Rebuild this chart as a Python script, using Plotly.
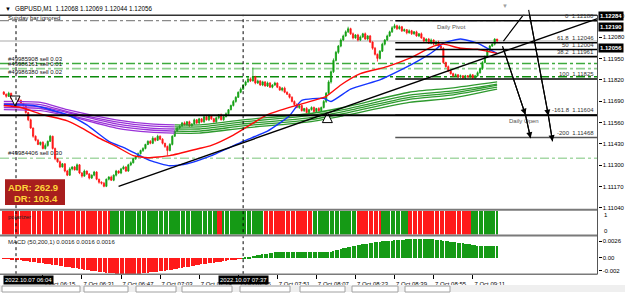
import pandas as pd
import plotly.graph_objects as go

W, H = 625, 293
DAY = "2022-10-07 "

# ---------------- data ----------------
symbol = "GBPUSD"
timeframe = "M1"
first_bar = "2022-10-07 05:59"
first_open = 1.11745

close = [
    1.11732, 1.11719, 1.11738, 1.11707, 1.11688, 1.11713, 1.11694, 1.11676, 1.11663, 1.11620,
    1.11576, 1.11526, 1.11476, 1.11451, 1.11426, 1.11439, 1.11401, 1.11420, 1.11445, 1.11476,
    1.11401, 1.11339, 1.11320, 1.11289, 1.11308, 1.11264, 1.11239, 1.11277, 1.11289, 1.11271,
    1.11302, 1.11252, 1.11233, 1.11264, 1.11246, 1.11221, 1.11239, 1.11258, 1.11214, 1.11196,
    1.11190, 1.11171, 1.11214, 1.11227, 1.11208, 1.11239, 1.11264, 1.11252, 1.11277, 1.11289,
    1.11264, 1.11302, 1.11314, 1.11339, 1.11352, 1.11370, 1.11389, 1.11401, 1.11426, 1.11445,
    1.11433, 1.11464, 1.11451, 1.11476, 1.11458, 1.11433, 1.11414, 1.11389, 1.11426, 1.11476,
    1.11507, 1.11526, 1.11539, 1.11557, 1.11545, 1.11564, 1.11539, 1.11551, 1.11576, 1.11557,
    1.11582, 1.11564, 1.11595, 1.11576, 1.11601, 1.11582, 1.11564, 1.11588, 1.11607, 1.11576,
    1.11595, 1.11613, 1.11638, 1.11663, 1.11688, 1.11713, 1.11744, 1.11763, 1.11788, 1.11807,
    1.11825, 1.11813, 1.11838, 1.11800, 1.11813, 1.11788, 1.11807, 1.11782, 1.11800, 1.11775,
    1.11788, 1.11800, 1.11775, 1.11757, 1.11769, 1.11744, 1.11732, 1.11713, 1.11688, 1.11669,
    1.11651, 1.11663, 1.11632, 1.11645, 1.11620, 1.11638, 1.11651, 1.11626, 1.11645, 1.11632,
    1.11651, 1.11688, 1.11738, 1.11807, 1.11869, 1.11938, 1.11987, 1.12025, 1.12062, 1.12087,
    1.12112, 1.12131, 1.12100, 1.12075, 1.12093, 1.12062, 1.12081, 1.12100, 1.12068, 1.12087,
    1.12050, 1.12012, 1.11975, 1.11950, 1.11994, 1.12037, 1.12062, 1.12087, 1.12112, 1.12137,
    1.12149, 1.12131, 1.12143, 1.12118, 1.12125, 1.12106, 1.12118, 1.12100, 1.12112, 1.12087,
    1.12100, 1.12075, 1.12056, 1.12068, 1.12043, 1.12062, 1.12037, 1.12050, 1.12025, 1.12012,
    1.11925, 1.11900, 1.11875, 1.11857, 1.11844, 1.11850, 1.11838, 1.11844, 1.11832, 1.11844,
    1.11838, 1.11850, 1.11832, 1.11844, 1.11863, 1.11888, 1.11925, 1.11962, 1.12000, 1.12025,
    1.12037, 1.12068, 1.12056,
]

upper_wick_pts = [
    6, 4, 9, 3, 5, 8, 4, 6, 3, 5,
    4, 7, 3, 5, 9, 4, 6, 12, 5, 8,
    3, 6, 4, 8, 5, 3, 7, 10, 4, 6,
    8, 4, 5, 9, 3, 6, 4, 7, 5, 3,
    5, 8, 4, 6, 9, 5, 7, 4, 6, 8,
    4, 6, 9, 5, 3, 7, 5, 8, 4, 6,
    7, 12, 4, 9, 5, 6, 3, 5, 8, 6,
    5, 8, 4, 6, 9, 5, 7, 4, 8, 5,
    6, 4, 9, 5, 7, 3, 6, 8, 4, 7,
    5, 8, 4, 6, 9, 7, 5, 10, 6, 8,
    12, 9, 56, 6, 8, 4, 7, 5, 9, 6,
    5, 8, 4, 7, 6, 9, 5, 4, 7, 6,
    8, 5, 6, 4, 9, 5, 7, 6, 4, 8,
    6, 9, 7, 10, 8, 12, 9, 7, 10, 8,
    9, 12, 6, 8, 5, 7, 9, 6, 8, 5,
    6, 4, 8, 5, 7, 9, 6, 8, 7, 10,
    12, 6, 8, 5, 7, 4, 9, 6, 5, 7,
    5, 8, 6, 4, 7, 9, 5, 6, 8, 4,
    6, 5, 7, 4, 6, 8, 5, 7, 4, 6,
    5, 7, 4, 6, 8, 7, 9, 6, 8, 7,
    6, 5, 1,
]

lower_wick_pts = [
    5, 8, 4, 6, 3, 9, 5, 4, 7, 6,
    8, 5, 9, 6, 4, 7, 5, 6, 8, 4,
    6, 9, 5, 7, 4, 8, 6, 5, 9, 4,
    5, 7, 9, 4, 6, 8, 5, 7, 6, 9,
    8, 6, 5, 7, 4, 6, 8, 5, 7, 4,
    6, 5, 8, 4, 7, 5, 6, 9, 5, 4,
    6, 5, 8, 4, 6, 7, 9, 31, 5, 6,
    4, 6, 5, 8, 4, 6, 7, 5, 4, 8,
    6, 5, 7, 4, 8, 6, 5, 7, 9, 4,
    6, 4, 7, 5, 6, 8, 4, 6, 5, 7,
    5, 7, 4, 8, 6, 5, 7, 4, 6, 5,
    7, 5, 6, 4, 8, 6, 5, 7, 6, 8,
    5, 9, 6, 8, 5, 7, 6, 9, 5, 7,
    8, 6, 9, 7, 10, 8, 6, 9, 7, 6,
    5, 7, 6, 9, 5, 8, 6, 7, 5, 8,
    6, 9, 7, 19, 6, 5, 8, 6, 5, 7,
    6, 8, 5, 7, 6, 9, 5, 7, 6, 5,
    7, 5, 8, 6, 5, 7, 6, 9, 5, 8,
    9, 6, 8, 5, 7, 4, 6, 8, 5, 7,
    6, 8, 5, 7, 5, 6, 8, 5, 7, 6,
    5, 8, 12,
]

macd_hist = [
    -0.00002, -0.00007, -0.00011, -0.00016, -0.00020, -0.00025, -0.00030, -0.00034, -0.00039, -0.00043,
    -0.00048, -0.00052, -0.00057, -0.00062, -0.00068, -0.00073, -0.00079, -0.00084, -0.00090, -0.00095,
    -0.00101, -0.00106, -0.00111, -0.00117, -0.00122, -0.00128, -0.00133, -0.00139, -0.00145, -0.00151,
    -0.00157, -0.00163, -0.00169, -0.00175, -0.00181, -0.00187, -0.00193, -0.00199, -0.00204, -0.00210,
    -0.00214, -0.00218, -0.00222, -0.00226, -0.00230, -0.00233, -0.00236, -0.00239, -0.00241, -0.00243,
    -0.00245, -0.00245, -0.00244, -0.00243, -0.00241, -0.00238, -0.00235, -0.00231, -0.00227, -0.00223,
    -0.00219, -0.00215, -0.00210, -0.00206, -0.00201, -0.00196, -0.00191, -0.00186, -0.00181, -0.00176,
    -0.00168, -0.00161, -0.00154, -0.00147, -0.00140, -0.00134, -0.00127, -0.00120, -0.00113, -0.00106,
    -0.00100, -0.00094, -0.00089, -0.00083, -0.00078, -0.00072, -0.00067, -0.00061, -0.00056, -0.00050,
    -0.00044, -0.00039, -0.00033, -0.00028, -0.00022, -0.00017, -0.00011, -0.00006, 0.00002, 0.00010,
    0.00018, 0.00026, 0.00034, 0.00041, 0.00048, 0.00054, 0.00060, 0.00066, 0.00072, 0.00078,
    0.00084, 0.00090, 0.00095, 0.00097, 0.00098, 0.00099, 0.00100, 0.00100, 0.00100, 0.00100,
    0.00100, 0.00100, 0.00099, 0.00099, 0.00098, 0.00098, 0.00097, 0.00097, 0.00097, 0.00098,
    0.00098, 0.00099, 0.00100, 0.00100, 0.00101, 0.00112, 0.00123, 0.00134, 0.00145, 0.00153,
    0.00160, 0.00168, 0.00175, 0.00183, 0.00191, 0.00199, 0.00207, 0.00214, 0.00220, 0.00227,
    0.00233, 0.00240, 0.00246, 0.00252, 0.00258, 0.00262, 0.00265, 0.00268, 0.00271, 0.00274,
    0.00277, 0.00280, 0.00282, 0.00285, 0.00288, 0.00291, 0.00294, 0.00296, 0.00298, 0.00300,
    0.00302, 0.00305, 0.00304, 0.00302, 0.00299, 0.00297, 0.00294, 0.00289, 0.00284, 0.00279,
    0.00274, 0.00268, 0.00263, 0.00258, 0.00252, 0.00246, 0.00240, 0.00235, 0.00230, 0.00224,
    0.00218, 0.00213, 0.00208, 0.00202, 0.00197, 0.00192, 0.00192, 0.00193, 0.00193, 0.00194,
    0.00194, 0.00195, 0.00195,
]
macd_title = "MACD (50,200,1) 0.0016 0.0016 0.0016"

# polarizer: runs of (number of bars, direction)
polarizer_runs = [(44, -1), (44, 1), (2, -1), (17, 1), (20, -1), (18, 1), (10, -1), (11, 1), (26, -1), (11, 1)]
polarizer_level = 1

red_ma_time = ["05:59", "06:06", "06:15", "06:25", "06:31", "06:38", "06:45", "06:52", "06:58", "07:07",
               "07:19", "07:24", "07:33", "07:47", "08:00", "08:11", "08:17", "08:25", "08:36", "08:45",
               "08:55", "08:59", "09:06", "09:13", "09:17", "09:21"]
red_ma = [1.11663, 1.11651, 1.11607, 1.11570, 1.11526, 1.11464, 1.11414, 1.11358, 1.11345, 1.11358,
          1.11401, 1.11420, 1.11483, 1.11607, 1.11669, 1.11719, 1.11788, 1.11857, 1.11900, 1.11950,
          1.12025, 1.12037, 1.12012, 1.12006, 1.11994, 1.11981]

blue_ma_time = ["05:59", "06:11", "06:25", "06:33", "06:42", "06:49", "06:59", "07:07", "07:14", "07:24",
                "07:37", "07:47", "07:56", "08:01", "08:10", "08:13", "08:21", "08:33", "08:41", "08:49",
                "08:55", "08:59", "09:06", "09:13", "09:17", "09:21"]
blue_ma = [1.11669, 1.11663, 1.11607, 1.11545, 1.11445, 1.11401, 1.11327, 1.11296, 1.11308, 1.11358,
           1.11445, 1.11507, 1.11601, 1.11694, 1.11707, 1.11688, 1.11763, 1.11819, 1.11875, 1.11938,
           1.11994, 1.12043, 1.12068, 1.12043, 1.12012, 1.11981]

ribbon_time = ["05:59", "06:14", "06:25", "06:45", "06:59", "07:09", "07:19", "07:37", "08:04", "08:18",
               "08:45", "09:02", "09:21"]
ribbon_lines = [
    [1.11688, 1.11682, 1.11638, 1.11576, 1.11551, 1.11545, 1.11545, 1.11576, 1.11613, 1.11651, 1.11744, 1.11769, 1.11807],
    [1.11676, 1.11669, 1.11626, 1.11564, 1.11539, 1.11533, 1.11533, 1.11564, 1.11601, 1.11638, 1.11726, 1.11751, 1.11794],
    [1.11663, 1.11657, 1.11620, 1.11551, 1.11526, 1.11520, 1.11520, 1.11551, 1.11588, 1.11626, 1.11713, 1.11738, 1.11788],
    [1.11651, 1.11645, 1.11607, 1.11539, 1.11514, 1.11507, 1.11507, 1.11539, 1.11576, 1.11613, 1.11701, 1.11726, 1.11775],
    [1.11638, 1.11632, 1.11601, 1.11526, 1.11501, 1.11495, 1.11495, 1.11526, 1.11564, 1.11601, 1.11682, 1.11707, 1.11763],
]
ribbon_turn_index = 5  # falling (purple) before, rising (green) after

fib_labels = ["0", "61.8", "50", "38.2", "100", "-161.8", "-200"]
fib_prices = [1.12180, 1.12046, 1.12004, 1.11961, 1.11825, 1.11604, 1.11468]
fib_start = "08:39:18"

daily_pivot = 1.12180
daily_open = 1.11604
bid_price = 1.12056
marker_labels = ["1.12284", "1.12190", "1.12056"]

sell_labels = ["#49985908 sell 0.03", "#49986161 sell 0.01", "#49986380 sell 0.02", "#49984406 sell 0.30"]
sell_prices = [1.11919, 1.11888, 1.11838, 1.11342]

trend_time = ["06:46", "10:02:06"]
trend_price = [1.11171, 1.12193]
path_a_time = ["09:23:36", "09:33:48", "09:42:00", "09:43:42"]
path_a_price = [1.12056, 1.12255, 1.11601, 1.11445]
path_b_time = ["09:23:12", "09:32:36", "09:34:42"]
path_b_price = [1.12025, 1.11607, 1.11464]

signal_time = ["06:03:36", "08:11:30"]
signal_price = [1.11660, 1.11620]
signal_dir = ["down", "up"]

crosshair_time = ["06:04", "07:37"]
time_ticks = ["06:15", "06:31", "06:47", "07:03", "07:19", "07:35", "07:51", "08:07", "08:23", "08:39", "08:55", "09:11"]
price_ticks = [1.11040, 1.11170, 1.11300, 1.11430, 1.11560, 1.11690, 1.11820, 1.11950, 1.12080, 1.12210]
macd_ticks = [0.0026, 0.0, -0.002]
macd_ticktext = ["0.0026", "0.00", "-0.002"]
adr = 262.9
dr = 103.4

# ---------------- helpers ----------------
def T(s):
    return pd.Timestamp(DAY + s)

def TS(s):
    return str(T(s))

def PX(x):
    return x / W

def PY(y):
    return 1 - y / H

n = len(close)
times = pd.date_range(first_bar, periods=n, freq="min")
opens = [first_open] + close[:-1]
highs = [max(o, c) + u * 1e-5 for o, c, u in zip(opens, close, upper_wick_pts)]
lows = [min(o, c) - d * 1e-5 for o, c, d in zip(opens, close, lower_wick_pts)]

UP, DN = "#12A012", "#FF1414"
HIST_UP, HIST_DN = "#159A15", "#FF1A1A"
FONT = "Liberation Sans, Arial, sans-serif"

fig = go.Figure()

# polarizer histogram
pol_colors = []
for count, sign in polarizer_runs:
    pol_colors += [HIST_UP if sign > 0 else HIST_DN] * count
fig.add_trace(go.Bar(x=times, y=[polarizer_level] * n, marker=dict(color=pol_colors, line=dict(width=0)),
                     width=40000, xaxis="x", yaxis="y2", hoverinfo="skip"))

# MACD histogram
fig.add_trace(go.Bar(x=times, y=macd_hist,
                     marker=dict(color=[HIST_UP if v >= 0 else HIST_DN for v in macd_hist], line=dict(width=0)),
                     width=40000, xaxis="x", yaxis="y3", hoverinfo="skip"))

# candles
fig.add_trace(go.Candlestick(
    x=times, open=opens, high=highs, low=lows, close=close,
    increasing=dict(line=dict(color=UP, width=0.8), fillcolor=UP),
    decreasing=dict(line=dict(color=DN, width=0.8), fillcolor=DN),
    whiskerwidth=0, xaxis="x", yaxis="y", hoverinfo="skip"))

# ribbon
for line in ribbon_lines:
    k = ribbon_turn_index
    fig.add_trace(go.Scatter(x=[T(s) for s in ribbon_time[:k + 1]], y=line[:k + 1], mode="lines",
                             line=dict(color="#9A32D8", width=1.3, shape="spline", smoothing=0.6),
                             xaxis="x", yaxis="y", hoverinfo="skip"))
    fig.add_trace(go.Scatter(x=[T(s) for s in ribbon_time[k:]], y=line[k:], mode="lines",
                             line=dict(color="#2E9A2E", width=1.3, shape="spline", smoothing=0.6),
                             xaxis="x", yaxis="y", hoverinfo="skip"))

# moving averages
fig.add_trace(go.Scatter(x=[T(s) for s in blue_ma_time], y=blue_ma, mode="lines",
                         line=dict(color="#1535FF", width=1.4, shape="spline", smoothing=0.5),
                         xaxis="x", yaxis="y", hoverinfo="skip"))
fig.add_trace(go.Scatter(x=[T(s) for s in red_ma_time], y=red_ma, mode="lines",
                         line=dict(color="#FF0A0A", width=1.4, shape="spline", smoothing=0.5),
                         xaxis="x", yaxis="y", hoverinfo="skip"))

# fib lines
fib_end = "10:02:06"
for lbl, p in zip(fib_labels, fib_prices):
    col = "#555555" if lbl == "-200" else "#000000"
    fig.add_trace(go.Scatter(x=[T(fib_start), T(fib_end)], y=[p, p], mode="lines",
                             line=dict(color=col, width=1.6), xaxis="x", yaxis="y", hoverinfo="skip"))

# trend line and projected paths
fig.add_trace(go.Scatter(x=[T(s) for s in trend_time], y=trend_price, mode="lines",
                         line=dict(color="#000", width=1.4), xaxis="x", yaxis="y", hoverinfo="skip"))
fig.add_trace(go.Scatter(x=[T(s) for s in path_a_time], y=path_a_price, mode="lines",
                         line=dict(color="#000", width=1.2), xaxis="x", yaxis="y", hoverinfo="skip"))
fig.add_trace(go.Scatter(x=[T(s) for s in path_b_time], y=path_b_price, mode="lines",
                         line=dict(color="#000", width=1.2), xaxis="x", yaxis="y", hoverinfo="skip"))

# signal arrows
fig.add_trace(go.Scatter(x=[T(s) for s in signal_time], y=signal_price, mode="markers",
                         marker=dict(symbol=["arrow-down" if d == "down" else "arrow-up" for d in signal_dir],
                                     size=10, color="white", line=dict(color="#000", width=1)),
                         xaxis="x", yaxis="y", hoverinfo="skip"))

shapes = []
# horizontal object lines (full width)
shapes.append(dict(type="line", xref="x domain", x0=0, x1=1, yref="y", y0=bid_price, y1=bid_price,
                   line=dict(color="#D4D4D4", width=2), layer="below"))
shapes.append(dict(type="line", xref="x domain", x0=0, x1=1, yref="y", y0=daily_pivot, y1=daily_pivot,
                   line=dict(color="#8A8A8A", width=1.3, dash="dashdot"), layer="below"))
sell_colors = ["#3DAA3D", "#8FD08F", "#0A8A0A", "#A6D8A6"]
for p, c in zip(sell_prices, sell_colors):
    shapes.append(dict(type="line", xref="x domain", x0=0, x1=1, yref="y", y0=p, y1=p,
                       line=dict(color=c, width=1.6, dash="dashdot"), layer="below"))
shapes.append(dict(type="line", xref="x domain", x0=0, x1=1, yref="y", y0=daily_open, y1=daily_open,
                   line=dict(color="#000", width=1.8)))

# crosshair verticals
for s in crosshair_time:
    shapes.append(dict(type="line", xref="x", x0=T(s), x1=T(s), yref="paper", y0=PY(275), y1=PY(13),
                       line=dict(color="#000", width=1, dash="dot")))

# frame lines
shapes.append(dict(type="line", xref="paper", yref="paper", x0=0, x1=PX(597), y0=PY(13.5), y1=PY(13.5),
                   line=dict(color="#333", width=1.5)))
for yy, wd in [(210, 2), (236, 2), (275, 1.5)]:
    shapes.append(dict(type="line", xref="paper", yref="paper", x0=0, x1=PX(597.5), y0=PY(yy), y1=PY(yy),
                       line=dict(color="#7A7A7A", width=wd)))
shapes.append(dict(type="line", xref="paper", yref="paper", x0=PX(597.5), x1=PX(597.5), y0=PY(275), y1=PY(13),
                   line=dict(color="#555", width=1)))

# ADR box
shapes.append(dict(type="rect", xref="paper", yref="paper", x0=PX(5), x1=PX(65), y0=PY(205), y1=PY(179),
                   fillcolor="#A81E1E", line=dict(width=0)))

# bottom tab bar
shapes.append(dict(type="rect", xref="paper", yref="paper", x0=0, x1=1, y0=0, y1=PY(286),
                   fillcolor="#EFEFEF", line=dict(width=0)))
for x0, x1 in [(2, 80), (84, 128), (136, 176), (182, 232), (240, 290), (300, 345), (352, 398), (405, 450)]:
    shapes.append(dict(type="rect", xref="paper", yref="paper", x0=PX(x0), x1=PX(x1), y0=PY(293), y1=PY(287),
                       fillcolor="white", line=dict(color="#A0A0A0", width=1)))

ann = []
def A(text, x, y, xanchor="left", yanchor="middle", size=6, color="#000", xref="paper", yref="paper", **kw):
    ann.append(dict(text=text, x=x, y=y, xref=xref, yref=yref, xanchor=xanchor, yanchor=yanchor,
                    showarrow=False, font=dict(size=size, color=color, family=FONT), **kw))

lo, hi, op, cl = lows[-1], highs[-1], opens[-1], close[-1]
A("▼", PX(3), PY(7), size=6)
A(f"{symbol},{timeframe}  {op:.5f} {hi:.5f} {lo:.5f} {cl:.5f}", PX(13), PY(7), size=6.3)
A("Sunday bar ignored", PX(6), PY(16), size=6, color="#222")
A("▼", PX(500), PY(4), size=6, color="#A0A0A0")

for t, p in zip(sell_labels, sell_prices):
    A(t, PX(6), p, yref="y", yanchor="bottom", size=6, color="#111")

for lbl, p in zip(fib_labels, fib_prices):
    A(f"{lbl}  {p:.5f}", PX(596), p, yref="y", xanchor="right", yanchor="bottom", size=6, color="#333")

A("Daily Pivot", PX(435), daily_pivot, yref="y", yanchor="top", size=6, color="#555", yshift=-1)
A("Daily Open", PX(507), daily_open, yref="y", yanchor="top", size=6, color="#555", yshift=-1)

A(f"<b>ADR: {adr}</b>", PX(33), PY(187.5), xanchor="center", size=9.5, color="#FFD43A")
A(f"<b>DR: {dr}</b>", PX(36), PY(199), xanchor="center", size=9.5, color="#FFD43A")

A("polarizer", PX(6), PY(217), size=6, color="#222")
A(macd_title, PX(6), PY(242), size=6, color="#222")
A("1", PX(602), PY(215), size=6)
A("0", PX(602), PY(231), size=6)

# price marker boxes on the right scale (stacked at the top as in the terminal)
for lbl, ypix in zip(marker_labels, [14, 25, 46]):
    A(f"<b>{lbl}</b>", PX(598), PY(ypix), size=6, color="white", bgcolor="#000", borderpad=1)

A("2022.10.07 06:04", PX(3), PY(281), size=6, color="white", bgcolor="#000", borderpad=1)
A("2022.10.07 07:37", T(crosshair_time[1]), PY(281), xref="x", xanchor="center", size=6, color="white",
  bgcolor="#000", borderpad=1)

# arrow heads on projection paths
for pt, pp in [(path_a_time, path_a_price), (path_b_time, path_b_price)]:
    for i in range(len(pt) - 2, len(pt)):
        ann.append(dict(x=TS(pt[i]), y=pp[i], ax=TS(pt[i - 1]), ay=pp[i - 1], xref="x", yref="y",
                        axref="x", ayref="y", showarrow=True, arrowhead=2, arrowsize=1.1, arrowwidth=1.1,
                        arrowcolor="#000", text=""))

fig.update_layout(
    width=W, height=H, margin=dict(l=0, r=0, t=0, b=0),
    paper_bgcolor="white", plot_bgcolor="white", showlegend=False, hovermode=False,
    bargap=0, font=dict(family=FONT, size=6, color="#000"),
    xaxis=dict(domain=[0, PX(597.5)], range=[T("05:57:26.6"), T("10:02:06.6")], type="date", anchor="y3",
               showgrid=False, zeroline=False, showline=False, ticks="outside", ticklen=4, tickcolor="#000",
               tickwidth=1, tickvals=[T(s) for s in time_ticks], tickformat="%-d %b %H:%M",
               tickfont=dict(size=6), ticklabelshift=17, rangeslider=dict(visible=False)),
    yaxis=dict(domain=[PY(210), PY(13)], range=[1.110275, 1.122154], side="right", anchor="x",
               tickvals=price_ticks, tickformat=".5f", ticks="outside", ticklen=3, tickcolor="#000",
               showgrid=False, zeroline=False, showline=False, tickfont=dict(size=6)),
    yaxis2=dict(domain=[PY(235), PY(211)], range=[0, 1], anchor="x", showticklabels=False,
                showgrid=False, zeroline=False, ticks=""),
    yaxis3=dict(domain=[PY(275), PY(236)], range=[-0.00252, 0.00344], side="right", anchor="x",
                tickvals=macd_ticks, ticktext=macd_ticktext, ticks="outside", ticklen=3, tickcolor="#000",
                showgrid=False, zeroline=False, showline=False, tickfont=dict(size=6)),
    shapes=shapes, annotations=ann,
)

fig.write_html("out.html")
